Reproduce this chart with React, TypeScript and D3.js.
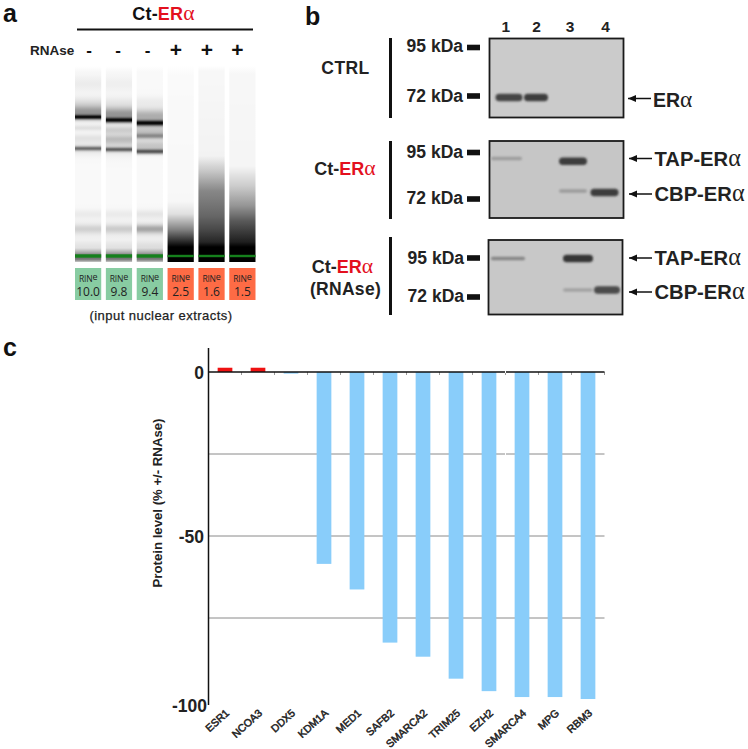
import React from "react";
import * as d3 from "d3";

// ---------- panel c data ----------
const proteins = ["ESR1","NCOA3","DDX5","KDM1A","MED1","SAFB2","SMARCA2","TRIM25","EZH2","SMARCA4","MPG","RBM3"];
const proteinChange = [1.3,1.3,-0.5,-58.5,-66.3,-82.5,-86.8,-93.5,-97.3,-99.1,-99.1,-99.7];
const gridValues = [-25,-50,-75];
const yTickValues = [0,-50,-100];

// ---------- panel a data ----------
const rinValues = ["10.0","9.8","9.4","2.5","1.6","1.5"];
const rnaseSigns = ["-","-","-","+","+","+"];
// each band: [migration, darkness, spread]
const gelBands1 = [[18,.05,6],[36,.07,4],[46,.4,5],[51,1,1.6],[62,.1,2],[72,.08,3],[82.5,.55,1.5],[82,.08,5],[148,.05,3],[163,.12,3],[180,.04,4],[164,.05,8]];
const gelBands2 = [[18,.04,6],[36,.06,4],[48,.4,5],[54,1,1.8],[64,.16,3],[73,.16,3],[83.5,.6,1.5],[78,.13,7],[148,.05,3],[163,.14,3],[180,.04,4],[164,.05,8]];
const gelBands3 = [[36,.05,4],[50,.3,5],[57,1,2],[70,.35,1.8],[66,.22,5],[80,.2,4],[85.5,.65,1.7],[148,.07,3],[163,.3,3],[180,.06,4],[164,.06,8]];
const gelBands4: number[][] = [];
const gelBands5: number[][] = [];
const gelBands6: number[][] = [];
const gelBands = [gelBands1,gelBands2,gelBands3,gelBands4,gelBands5,gelBands6];
// smear: [migration, darkness]
const smear1 = [[0,0],[6,.025],[174,.025],[182,.08],[186,.3],[189,.5],[193,.55],[195,.35],[196,.2]];
const smear2 = smear1;
const smear3 = smear1;
const smear4 = [[0,0],[10,.02],[135,.03],[148,.12],[164,.5],[176,.85],[181,1],[196,1]];
const smear5 = [[0,0],[5,.03],[90,.05],[105,.22],[125,.47],[150,.6],[164,.72],[176,.85],[181,1],[196,1]];
const smear6 = [[0,0],[8,.03],[100,.04],[120,.2],[140,.42],[155,.65],[165,.76],[176,.88],[181,1],[196,1]];
const smears = [smear1,smear2,smear3,smear4,smear5,smear6];
const goodRin = [true,true,true,false,false,false];

// ---------- panel b data ----------
const laneLabels = ["1","2","3","4"];
const laneWeights = [3.4,3.4,3.4,2.4,2.4,2.4];
// each band: [lane number, apparent kDa, darkness]
const blotCtrl = [[1,72,.9],[2,72,.95]];
const blotCt = [[1,95,.28],[3,93.2,.95],[3,73,.3],[4,72,.95]];
const blotRnase = [[1,95,.45],[3,95,1],[3,72,.25],[4,72,.85]];
const kdaMarks = [95,72];

const sans = "'Liberation Sans', Arial, sans-serif";
const serif = "'Liberation Serif', serif";

const ER = ({ a = "#e3101e" }: { a?: string }) => (
  <>
    <tspan fill={a}>ER</tspan>
    <tspan fill={a} fontFamily={serif} fontWeight="normal" fontSize="1.2em">α</tspan>
  </>
);

function gauss(x: number, m: number, s: number) {
  return Math.exp(-((x - m) * (x - m)) / (2 * s * s));
}

function Gel() {
  const laneX = d3.scaleBand<number>().domain(d3.range(6)).range([75, 255.5]).paddingInner(0.15).paddingOuter(0);
  const gelY = d3.scaleLinear().domain([0, 196]).range([66, 262]);
  const samples = d3.range(0, 197, 1);
  return (
    <g>
      <defs>
        {smears.map((sm, i) => {
          const base = d3.scaleLinear().domain(sm.map((d) => d[0])).range(sm.map((d) => d[1])).clamp(true);
          return (
            <linearGradient key={i} id={`lane${i}`} x1="0" x2="0" y1="0" y2="1">
              {samples.map((m) => {
                let dark = base(m);
                gelBands[i].forEach((b) => {
                  dark = 1 - (1 - dark) * (1 - b[1] * gauss(m, b[0], b[2]));
                });
                const v = Math.round(255 * (1 - Math.min(1, dark)));
                return <stop key={m} offset={m / 196} stopColor={`rgb(${v},${v},${v})`} />;
              })}
            </linearGradient>
          );
        })}
      </defs>
      {rinValues.map((r, i) => {
        const x = laneX(i)!;
        const w = laneX.bandwidth();
        return (
          <g key={i}>
            <rect x={x} y={gelY(0)} width={w} height={196} fill={`url(#lane${i})`} />
            <rect x={x} y={256 - laneWeights[i] / 2} width={w} height={laneWeights[i]} fill="#15801c" />
            <rect x={x} y={268} width={w} height={32} fill={goodRin[i] ? "#88cca2" : "#fe6b45"} />
            <text x={x + w / 2} y={282} textAnchor="middle" fontFamily={"'Open Sans', sans-serif"} fontSize={8.5} letterSpacing={-0.2} fill="#222">
              RIN
              <tspan fontSize={9} dy={-2}>e</tspan>
            </text>
            <text x={x + w / 2} y={295.5} textAnchor="middle" fontFamily={"'Open Sans', sans-serif"} fontSize={12} fill="#222">{r}</text>
            <text x={[89, 118, 147.5, 176, 207, 237.5][i]} y={rnaseSigns[i] === "-" ? 56 : 57} textAnchor="middle" fontFamily={sans} fontWeight="bold" fontSize={rnaseSigns[i] === "-" ? 17 : 21} fill="#111">
              {rnaseSigns[i]}
            </text>
          </g>
        );
      })}
      <text x={3} y={22} fontFamily={sans} fontWeight="bold" fontSize={25} fill="#111">a</text>
      <text x={163.5} y={20} textAnchor="middle" fontFamily={sans} fontWeight="bold" fontSize={18} letterSpacing={0.2} fill="#111">
        Ct-<ER />
      </text>
      <line x1={77} x2={253} y1={29.5} y2={29.5} stroke="#111" strokeWidth={2} />
      <text x={30} y={55} fontFamily={sans} fontWeight="bold" fontSize={13.5} fill="#222">RNAse</text>
      <text x={161} y={320} textAnchor="middle" fontFamily={sans} fontSize={13} letterSpacing={0.45} stroke="#222" strokeWidth={0.25} fill="#222">(input nuclear extracts)</text>
    </g>
  );
}

type PanelCfg = {
  x: number; y: number; w: number; h: number; bar: [number, number]; y95: number; y72: number;
  labY95: number; labY72: number; labX: number; mark95: number; mark72: number; lanes: number[]; bands: number[][]; bg: string; bandW: number[];
};

const panels: PanelCfg[] = [
  { x: 489.5, y: 38.5, w: 134, h: 79, bar: [38, 118], y95: 47, y72: 97.5, labY95: 52, labY72: 102, labX: 463, mark95: 47.5, mark72: 96, lanes: [509, 536, 573, 605], bands: blotCtrl, bg: "#cbcbcb", bandW: [27, 24, 28, 28] },
  { x: 489.5, y: 141, w: 134, h: 77, bar: [141, 219], y95: 158.5, y72: 192.5, labY95: 158, labY72: 204, labX: 463, mark95: 152.5, mark72: 199, lanes: [506.5, 536, 573, 604.5], bands: blotCt, bg: "#c6c6c6", bandW: [31, 24, 28, 28] },
  { x: 488.5, y: 240, w: 134, h: 74.5, bar: [237, 315], y95: 258.5, y72: 290, labY95: 264, labY72: 302, labX: 464, mark95: 258, mark72: 297, lanes: [508, 536, 578, 607], bands: blotRnase, bg: "#c8c8c8", bandW: [34, 24, 30, 26] },
];

function Arrow({ x1, x2, y }: { x1: number; x2: number; y: number }) {
  return (
    <g>
      <line x1={x1} x2={x2} y1={y} y2={y} stroke="#111" strokeWidth={1.5} />
      <path d={`M${x1 + 8},${y - 3.5} L${x1},${y} L${x1 + 8},${y + 3.5} Z`} fill="#111" />
    </g>
  );
}

function Blots() {
  return (
    <g>
      <text x={305} y={25} fontFamily={sans} fontWeight="bold" fontSize={25} fill="#111">b</text>
      {laneLabels.map((l, i) => (
        <text key={l} x={[505.7, 536.5, 570, 605.5][i]} y={32} textAnchor="middle" fontFamily={sans} fontWeight="bold" fontSize={15.5} fill="#222">{l}</text>
      ))}
      {panels.map((p, pi) => {
        const ky = d3.scaleLinear().domain(kdaMarks).range([p.y95, p.y72]);
        return (
          <g key={pi}>
            <rect x={p.x} y={p.y} width={p.w} height={p.h} fill={p.bg} stroke="#1a1a1a" strokeWidth={1.8} />
            {p.bands.map((b, i) => {
              const v = Math.round(198 - b[2] * 145);
              const h = b[2] > 0.6 ? 7.5 : 3.5;
              const w = p.bandW[b[0] - 1];
              return (
                <rect key={i} x={p.lanes[b[0] - 1] - w / 2} y={ky(b[1]) - h / 2} width={w} height={h} rx={h / 2}
                  fill={`rgb(${v},${v},${v})`} filter="url(#soft)" />
              );
            })}
            <rect x={389} y={p.bar[0]} width={3} height={p.bar[1] - p.bar[0]} fill="#111" />
            {kdaMarks.map((k, i) => {
              const my = i === 0 ? p.mark95 : p.mark72;
              const ly = i === 0 ? p.labY95 : p.labY72;
              return (
                <g key={k}>
                  <rect x={467} y={my - 2.8} width={13} height={5.6} fill="#111" />
                  <text x={p.labX} y={ly} textAnchor="end" fontFamily={sans} fontWeight="bold" fontSize={17.5} fill="#222">{k} kDa</text>
                </g>
              );
            })}
          </g>
        );
      })}
      <text x={345.5} y={74} textAnchor="middle" fontFamily={sans} fontWeight="bold" fontSize={17.5} letterSpacing={0.4} fill="#222">CTRL</text>
      <text x={345} y={175} textAnchor="middle" fontFamily={sans} fontWeight="bold" fontSize={18} fill="#222">Ct-<ER /></text>
      <text x={342.5} y={273} textAnchor="middle" fontFamily={sans} fontWeight="bold" fontSize={18} fill="#222">Ct-<ER /></text>
      <text x={345.5} y={295} textAnchor="middle" fontFamily={sans} fontWeight="bold" fontSize={17.5} letterSpacing={0.3} fill="#222">(RNAse)</text>
      <Arrow x1={628} x2={651} y={98.5} />
      <text x={653} y={107} fontFamily={sans} fontWeight="bold" fontSize={19.5} fill="#222"><ER a="#222" /></text>
      {[[158.5, 165.5], [258, 264.5]].map(([ay, ty], i) => (
        <g key={i}>
          <Arrow x1={629} x2={652} y={ay} />
          <text x={654.5} y={ty} fontFamily={sans} fontWeight="bold" fontSize={20.2} fill="#222">TAP-<ER a="#222" /></text>
        </g>
      ))}
      {[[194, 200.5], [292, 299]].map(([ay, ty], i) => (
        <g key={i}>
          <Arrow x1={629} x2={652} y={ay} />
          <text x={654.5} y={ty} fontFamily={sans} fontWeight="bold" fontSize={20.2} fill="#222">CBP-<ER a="#222" /></text>
        </g>
      ))}
    </g>
  );
}

function BarChart() {
  const x = d3.scaleBand<string>().domain(proteins).range([208.5, 604.5]);
  const y = d3.scaleLinear().domain([0, -100]).range([372, 700]);
  const bw = 14.7;
  return (
    <g>
      <text x={3} y={356} fontFamily={sans} fontWeight="bold" fontSize={25} fill="#111">c</text>
      {gridValues.map((g) => (
        <line key={g} x1={208.5} x2={604.5} y1={y(g)} y2={y(g)} stroke="#8a8a8a" strokeWidth={1} />
      ))}
      {proteins.map((p) => (
        <line key={p} x1={x(p)! + x.bandwidth()} x2={x(p)! + x.bandwidth()} y1={y(0)} y2={y(0) + 3} stroke="#999" strokeWidth={1} />
      ))}
      {proteins.map((p, i) => {
        const v = proteinChange[i];
        const cx = x(p)! + x.bandwidth() / 2;
        return (
          <rect key={p} x={cx - bw / 2} y={Math.min(y(v), y(0))} width={bw} height={Math.abs(y(v) - y(0))}
            fill={v > 0 ? "#ee1111" : "#89cdfa"} />
        );
      })}
      <line x1={208.5} x2={604.5} y1={y(0)} y2={y(0)} stroke="#111" strokeWidth={1.4} />
      <rect x={505} y={y(0) - 1} width={1} height={2} fill="#fff" />
      <rect x={505} y={y(-25) - 1} width={1} height={2} fill="#fff" />
      <line x1={208.5} x2={208.5} y1={348} y2={705} stroke="#111" strokeWidth={1.5} />
      {yTickValues.map((t) => (
        <text key={t} x={t === -100 ? 207 : 204} y={y(t) + (t === -100 ? 11.5 : 6.5)} textAnchor="end" fontFamily={sans} fontWeight="bold" fontSize={17.5} fill="#222">{t}</text>
      ))}
      <text transform="translate(161.5,503) rotate(-90)" textAnchor="middle" fontFamily={sans} fontWeight="bold" fontSize={13.2} fill="#222">Protein level (% +/- RNAse)</text>
      {proteins.map((p) => {
        const cx = x(p)! + x.bandwidth() / 2;
        return (
          <text key={p} transform={`translate(${cx + 5},714) rotate(-42)`} textAnchor="end" fontFamily={sans} fontSize={10.6} stroke="#222" strokeWidth={0.5} fill="#222">{p}</text>
        );
      })}
    </g>
  );
}

export default function App() {
  return (
    <svg width={748} height={749} viewBox="0 0 748 749" style={{ position: "absolute", left: 0, top: 0, background: "#fff" }}>
      <defs>
        <filter id="soft" x="-20%" y="-100%" width="140%" height="300%">
          <feGaussianBlur stdDeviation="1" />
        </filter>
      </defs>
      <Gel />
      <Blots />
      <BarChart />
    </svg>
  );
}
